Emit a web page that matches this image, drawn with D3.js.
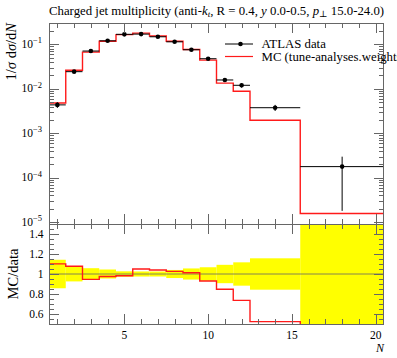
<!DOCTYPE html>
<html><head><meta charset="utf-8">
<script src="https://cdn.jsdelivr.net/npm/d3@7"></script>
<style>body{margin:0;background:#fff}svg{display:block}text{font-family:"Liberation Serif","DejaVu Serif",serif;fill:#000}</style>
</head><body><svg id="c" width="397" height="358"></svg>
<script>
// Bins
const binLow  = [0.5,1.5,2.5,3.5,4.5,5.5,6.5,7.5,8.5,9.5,10.5,11.5,12.5,15.5];
const binHigh = [1.5,2.5,3.5,4.5,5.5,6.5,7.5,8.5,9.5,10.5,11.5,12.5,15.5,20.5];
const binCenter = [1,2,3,4,5,6,7,8,9,10,11,12,14,18];
// ATLAS data
const dataVal = [4.35e-3,0.0243,0.0707,0.120,0.168,0.170,0.148,0.114,0.0756,0.0475,0.0158,0.0120,3.76e-3,1.78e-4];
const dataErrUp = [6.2e-4,1.8e-3,4.1e-3,5.4e-3,4.5e-3,4.3e-3,3.7e-3,4.6e-3,4.2e-3,3.2e-3,1.45e-3,1.4e-3,5.9e-4,1.2e-4];
const dataErrDn = [6.2e-4,1.8e-3,4.1e-3,5.4e-3,4.5e-3,4.3e-3,3.7e-3,4.6e-3,4.2e-3,3.2e-3,1.45e-3,1.4e-3,5.9e-4,1.6e-4];
// MC
const mcVal = [4.79e-3,0.0262,0.0669,0.117,0.165,0.1785,0.154,0.117,0.0766,0.0442,0.0134,0.00884,1.97e-3,1.57e-5];
// tick labels
const xTickLabels = ["5","10","15","20"];
const yMainTickExp = ["−1","−2","−3","−4","−5"];
const yRatioTickLabels = ["1.4","1.2","1","0.8","0.6"];

const svg = d3.select("#c");
const L=49, R=384, T=23, MB=224, RB=324;
const x = d3.scaleLinear().domain([0.5,20.5]).range([L,R]);
const y = d3.scaleLog().domain([Math.pow(10,-5.04),Math.pow(10,-0.52)]).range([MB,T]);
const yr = d3.scaleLinear().domain([0.5,1.5]).range([RB,MB]);

const defs = svg.append("defs");
defs.append("clipPath").attr("id","cm").append("rect").attr("x",L).attr("y",T).attr("width",R-L).attr("height",MB-T);
defs.append("clipPath").attr("id","cr").append("rect").attr("x",L).attr("y",MB).attr("width",R-L).attr("height",RB-MB);

const idx = d3.range(binLow.length);
function stepPath(vals, ys){
  let p="";
  idx.forEach(i=>{
    const yy = ys(vals[i]);
    p += (i===0?"M":"L")+x(binLow[i])+","+yy+"L"+x(binHigh[i])+","+yy;
  });
  return p;
}

// ===== Main panel =====
const gm = svg.append("g").attr("clip-path","url(#cm)");
gm.append("path").attr("d",stepPath(mcVal,y)).attr("fill","none").attr("stroke","#ff1a1a").attr("stroke-width",1.4);
idx.forEach(i=>{
  const cy = y(dataVal[i]);
  gm.append("line").attr("x1",x(binLow[i])).attr("x2",x(binHigh[i])).attr("y1",cy).attr("y2",cy).attr("stroke","#000").attr("stroke-width",1);
  gm.append("line").attr("x1",x(binCenter[i])).attr("x2",x(binCenter[i]))
    .attr("y1",y(dataVal[i]+dataErrUp[i])).attr("y2",y(Math.max(dataVal[i]-dataErrDn[i],1e-7))).attr("stroke","#000").attr("stroke-width",1);
  gm.append("circle").attr("cx",x(binCenter[i])).attr("cy",cy).attr("r",2.3).attr("fill","#000");
});

// ===== Ratio panel =====
const gr = svg.append("g").attr("clip-path","url(#cr)");
idx.forEach(i=>{
  const up = 1 + dataErrUp[i]/dataVal[i], dn = 1 - dataErrDn[i]/dataVal[i];
  gr.append("rect").attr("x",x(binLow[i])).attr("width",x(binHigh[i])-x(binLow[i]))
    .attr("y",yr(up)).attr("height",yr(dn)-yr(up)).attr("fill","#ffff00");
});
gr.append("line").attr("x1",L).attr("x2",R).attr("y1",yr(1)).attr("y2",yr(1)).attr("stroke","#666").attr("stroke-width",0.8);
const ratioVals = idx.map(i=>mcVal[i]/dataVal[i]);
gr.append("path").attr("d",stepPath(ratioVals,yr)).attr("fill","none").attr("stroke","#ff1a1a").attr("stroke-width",1.4);

// ===== Frames & ticks =====
const fc="#666";
function frame(t,b){
  svg.append("rect").attr("x",L+0.5).attr("y",t+0.5).attr("width",R-L-1).attr("height",b-t).attr("fill","none").attr("stroke",fc).attr("stroke-width",1);
}
frame(T,MB); frame(MB,RB);
const tk = svg.append("g").attr("stroke",fc).attr("stroke-width",1);
function xTicks(top,bot){
  d3.range(1,21).forEach(v=>{
    const len = v%5===0?10:5, xx=Math.round(x(v))+0.5;
    tk.append("line").attr("x1",xx).attr("x2",xx).attr("y1",bot).attr("y2",bot-len);
    tk.append("line").attr("x1",xx).attr("x2",xx).attr("y1",top).attr("y2",top+len);
  });
}
xTicks(T,MB); xTicks(MB,RB);
// main y ticks
for(let e=-5;e<=-1;e++){
  for(let m=1;m<=9;m++){
    const v=m*Math.pow(10,e); if(v<y.domain()[0]||v>y.domain()[1]) continue;
    const yy=Math.round(y(v))+0.5, len=m===1?10:5;
    tk.append("line").attr("x1",L).attr("x2",L+len).attr("y1",yy).attr("y2",yy);
    tk.append("line").attr("x1",R).attr("x2",R-len).attr("y1",yy).attr("y2",yy);
  }
}
for(let m=2;m<=3;m++){const vv=m*0.1; if(vv<=y.domain()[1]){const yy=Math.round(y(vv))+0.5;
  tk.append("line").attr("x1",L).attr("x2",L+5).attr("y1",yy).attr("y2",yy);
  tk.append("line").attr("x1",R).attr("x2",R-5).attr("y1",yy).attr("y2",yy);}}
// ratio y ticks
d3.range(10,31).forEach(k=>{
  const v=k*0.05; const yy=Math.round(yr(v))+0.5;
  const major = (k%4===0)&&v>0.55&&v<1.45;
  const len = major?10:5;
  tk.append("line").attr("x1",L).attr("x2",L+len).attr("y1",yy).attr("y2",yy);
  tk.append("line").attr("x1",R).attr("x2",R-len).attr("y1",yy).attr("y2",yy);
});

// ===== Labels =====
const fs=11.5;
// x tick labels
[5,10,15,20].forEach((v,i)=>{
  svg.append("text").attr("x",x(v)).attr("y",338.5).attr("text-anchor","middle").attr("font-size",fs).text(xTickLabels[i]);
});
svg.append("text").attr("x",384).attr("y",351.5).attr("text-anchor","end").attr("font-size",12).attr("font-style","italic").text("N");
// main y tick labels
[-1,-2,-3,-4,-5].forEach((e,i)=>{
  const t=svg.append("text").attr("x",42).attr("y",y(Math.pow(10,e))+3.5).attr("text-anchor","end").attr("font-size",fs);
  t.append("tspan").text("10");
  t.append("tspan").attr("dy",-4.5).attr("font-size",8.5).text(yMainTickExp[i]);
});
// ratio labels
[1.4,1.2,1,0.8,0.6].forEach((v,i)=>{
  svg.append("text").attr("x",43.5).attr("y",yr(v)+3.5).attr("text-anchor","end").attr("font-size",fs).text(yRatioTickLabels[i]);
});
// axis titles
const yl = svg.append("text").attr("transform","translate(16,23) rotate(-90)").attr("text-anchor","end").attr("font-size",14.5);
yl.append("tspan").text("1/");
yl.append("tspan").attr("font-style","italic").text("σ");
yl.append("tspan").text(" d");
yl.append("tspan").attr("font-style","italic").text("σ");
yl.append("tspan").text("/d");
yl.append("tspan").attr("font-style","italic").text("N");
svg.append("text").attr("transform","translate(17.5,274) rotate(-90)").attr("text-anchor","middle").attr("font-size",14.5).text("MC/data");
// title
const tt = svg.append("text").attr("x",49).attr("y",14.5).attr("font-size",12.8);
tt.append("tspan").text("Charged jet multiplicity (anti-");
tt.append("tspan").attr("font-style","italic").text("k");
tt.append("tspan").attr("font-style","italic").attr("font-size",9).attr("dy",2.5).text("t");
tt.append("tspan").attr("dy",-2.5).text(", R = 0.4, ");
tt.append("tspan").attr("font-style","italic").text("y");
tt.append("tspan").text(" 0.0-0.5, ");
tt.append("tspan").attr("font-style","italic").text("p");
tt.append("tspan").attr("font-size",9).attr("dy",2.5).text("⊥");
tt.append("tspan").attr("dy",-2.5).text(" 15.0-24.0)");
// legend
svg.append("line").attr("x1",225).attr("x2",253).attr("y1",44).attr("y2",44).attr("stroke","#000").attr("stroke-width",1);
svg.append("circle").attr("cx",240.5).attr("cy",44).attr("r",2.3).attr("fill","#000");
svg.append("text").attr("x",261.5).attr("y",47.5).attr("font-size",12.8).text("ATLAS data");
svg.append("line").attr("x1",225).attr("x2",253).attr("y1",56.5).attr("y2",56.5).attr("stroke","#ff1a1a").attr("stroke-width",1.2);
svg.append("text").attr("x",261.5).attr("y",60.5).attr("font-size",12.8).text("MC (tune-analyses.weights)");
</script></body></html>
